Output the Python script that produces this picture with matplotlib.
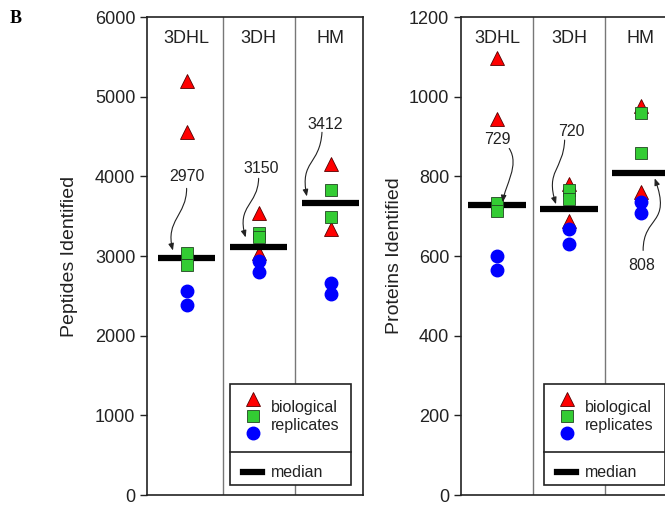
import matplotlib.pyplot as plt
from matplotlib.patches import FancyArrowPatch, Rectangle
from matplotlib.path import Path

plt.rcParams['font.family'] = ['Liberation Sans', 'DejaVu Sans']

groups = ['3DHL', '3DH', 'HM']

# Peptides identified (panel left)
pep_tri = [[5195, 4553], [3535, 3044], [4150, 3333]]
pep_sq = [[3044, 2893], [3283, 3233], [3824, 3484]]
pep_circ = [[2566, 2390], [2943, 2805], [2667, 2528]]
pep_median = [2970, 3107, 3660]
pep_labels = ['2970', '3150', '3412']

# Proteins identified (panel right)
prot_tri = [[1097, 943], [782, 689], [976, 760]]
prot_sq = [[732, 714], [765, 742], [958, 858]]
prot_circ = [[601, 566], [667, 631], [735, 709]]
prot_median = [727, 717, 808]
prot_labels = ['729', '720', '808']

# label text position and bezier path of the arrow (data coords)
pep_notes = [
    ((0.0, 4000), [(0.0, 3849), (0.0, 3509), (-0.3, 3447), (-0.19, 3069)]),
    ((1.03, 4101), [(1.0, 3975), (0.99, 3635), (0.69, 3635), (0.82, 3233)]),
    ((1.92, 4654), [(1.88, 4553), (1.85, 4138), (1.57, 4201), (1.67, 3748)]),
]
prot_notes = [
    ((0.0, 893), [(0.17, 870), (0.32, 828), (0.11, 777), (0.08, 735)]),
    ((1.03, 913), [(0.94, 891), (0.92, 815), (0.67, 815), (0.82, 730)]),
    ((2.01, 576), [(2.03, 614), (2.03, 702), (2.43, 677), (2.19, 795)]),
]

TXT = '#222222'
RED, GREEN, BLUE = '#ff0000', '#33cc33', '#0000ff'


def draw_panel(ax, tri, sq, circ, med, labels, notes, xlim, ymax, ystep, ylabel, pad):
    for i in range(len(groups)):
        ax.plot([i] * len(tri[i]), tri[i], '^', ms=10, mfc=RED, mec='#550000', mew=0.6, zorder=3)
        ax.hlines(med[i], i - 0.4, i + 0.4, color='black', lw=4.5, zorder=4)
        ax.plot([i] * len(sq[i]), sq[i], 's', ms=8, mfc=GREEN, mec='#224422', mew=0.6, zorder=5)
        ax.plot([i] * len(circ[i]), circ[i], 'o', ms=9, mfc=BLUE, mec=BLUE, zorder=6)
        ax.text(i, ymax * 0.973, groups[i], ha='center', va='top', fontsize=13, color=TXT)
        (tx, ty), pts = notes[i]
        ax.text(tx, ty, labels[i], ha='center', va='center', fontsize=11.5, color=TXT, zorder=7)
        path = Path(pts, [Path.MOVETO, Path.CURVE4, Path.CURVE4, Path.CURVE4])
        ax.add_patch(FancyArrowPatch(path=path, arrowstyle='-|>,head_length=4,head_width=1.6',
                                     color='#222222', lw=0.8, zorder=7))
    for d in [0.5, 1.5]:
        ax.axvline(d, color='#777777', lw=1, zorder=1)
    ax.set_xlim(*xlim)
    ax.set_ylim(0, ymax)
    ax.set_yticks(range(0, ymax + 1, ystep))
    ax.set_xticks([])
    ax.tick_params(axis='y', labelsize=13, length=5, width=1, colors=TXT, labelcolor=TXT)
    ax.set_ylabel(ylabel, fontsize=14, color=TXT, labelpad=pad)
    for s in ax.spines.values():
        s.set_color('#222222')
        s.set_linewidth(1.2)

    # legend box
    ax.add_patch(Rectangle((0.384, 0.021), 0.56, 0.211, transform=ax.transAxes, fc='white',
                           ec='#222222', lw=1.2, zorder=8))
    ax.plot([0.384, 0.944], [0.09, 0.09], transform=ax.transAxes, color='#222222', lw=1.2, zorder=9)
    ax.plot(0.492, 0.201, '^', ms=10, mfc=RED, mec='#550000', mew=0.6, transform=ax.transAxes, zorder=9)
    ax.plot(0.492, 0.165, 's', ms=8, mfc=GREEN, mec='#224422', mew=0.6, transform=ax.transAxes, zorder=9)
    ax.plot(0.492, 0.130, 'o', ms=9, mfc=BLUE, mec=BLUE, transform=ax.transAxes, zorder=9)
    ax.text(0.574, 0.184, 'biological', transform=ax.transAxes, va='center', fontsize=11.5, color=TXT, zorder=9)
    ax.text(0.574, 0.146, 'replicates', transform=ax.transAxes, va='center', fontsize=11.5, color=TXT, zorder=9)
    ax.plot([0.444, 0.532], [0.048, 0.048], transform=ax.transAxes, color='black', lw=4.5, zorder=9)
    ax.text(0.574, 0.048, 'median', transform=ax.transAxes, va='center', fontsize=11.5, color=TXT, zorder=9)


fig = plt.figure(figsize=(6.65, 5.05), dpi=100)
ax1 = fig.add_axes([0.2211, 0.0198, 0.3248, 0.9465])
ax2 = fig.add_axes([0.6932, 0.0198, 0.3248, 0.9465])

draw_panel(ax1, pep_tri, pep_sq, pep_circ, pep_median, pep_labels, pep_notes,
           (-0.55, 2.45), 6000, 1000, 'Peptides Identified', 12)
draw_panel(ax2, prot_tri, prot_sq, prot_circ, prot_median, prot_labels, prot_notes,
           (-0.5, 2.5), 1200, 200, 'Proteins Identified', 4)

fig.text(0.014, 0.955, 'B', fontsize=13, fontweight='bold', family='Liberation Serif', color='black')

fig.savefig('out.png', dpi=100)
